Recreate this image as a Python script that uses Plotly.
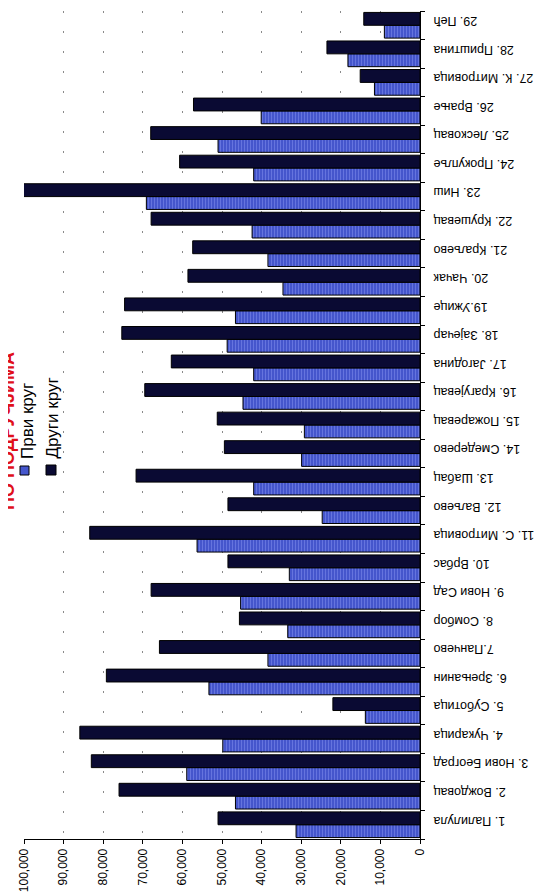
import plotly.graph_objects as go

categories = ["1. Палилула", "2. Вождовац", "3. Нови Београд", "4. Чукарица", "5. Суботица",
              "6. Зрењанин", "7.Панчево", "8. Сомбор", "9. Нови Сад", "10. Врбас",
              "11. С. Митровица", "12. Ваљево", "13. Шабац", "14. Смедерево", "15. Пожаревац",
              "16. Крагујевац", "17. Јагодина", "18. Зајечар", "19.Ужице", "20. Чачак",
              "21. Краљево", "22. Крушевац", "23. Ниш", "24. Прокупље", "25. Лесковац",
              "26. Врање", "27. К. Митровица", "28. Приштина", "29. Пећ"]

prvi_krug = [31300, 46600, 58900, 49800, 13800, 53300, 38400, 33400, 45300, 33000,
             56300, 24700, 42000, 29900, 29200, 44700, 42000, 48700, 46600, 34600,
             38400, 42400, 69100, 42000, 51000, 40100, 11500, 18200, 9000]

drugi_krug = [51000, 76000, 83000, 85900, 22000, 79200, 65800, 45600, 67900, 48500,
              83400, 48500, 71700, 49400, 51200, 69500, 62800, 75300, 74600, 58600,
              57400, 67900, 100800, 60700, 68000, 57200, 15100, 23500, 14200]

x_ticks = list(range(0, 100001, 10000))

series_names = ["Први круг", "Други круг"]
title_text = "ПО ПОДРУЧЈИМА"

BLUE = "#4556cc"
DARK = "#0a0a33"
FONT = "Liberation Sans, Arial, sans-serif"

fig = go.Figure()
fig.add_trace(go.Bar(
    y=categories, x=prvi_krug, orientation="h", name=series_names[0],
    marker=dict(color=BLUE, line=dict(color="#000000", width=1),
                pattern=dict(shape="|", fgcolor="#8592f0", bgcolor=BLUE, size=3, solidity=0.35)),
))
fig.add_trace(go.Bar(
    y=categories, x=drugi_krug, orientation="h", name=series_names[1],
    marker=dict(color=DARK, line=dict(color="#000000", width=1)),
))

# plot area in pixels: x 16..412, y 3..831
L, R, T, B = 16, 412, 3, 831
W, H = R - L, B - T

def px(x):
    return (x - L) / W

def py(y):
    return (B - y) / H

annotations = [
    dict(text="<b>" + title_text + "</b>", xref="paper", yref="paper",
         x=px(0), y=py(423), xanchor="center", yanchor="middle", textangle=-90,
         showarrow=False, font=dict(family=FONT, size=18, color="#e0101a")),
    dict(text=series_names[0], xref="paper", yref="paper",
         x=px(19), y=py(453), xanchor="center", yanchor="bottom", textangle=-90,
         showarrow=False, font=dict(family=FONT, size=17, color="#000000")),
    dict(text=series_names[1], xref="paper", yref="paper",
         x=px(44), y=py(453), xanchor="center", yanchor="bottom", textangle=-90,
         showarrow=False, font=dict(family=FONT, size=17, color="#000000")),
]

shapes = [
    dict(type="rect", xref="paper", yref="paper", x0=px(12), x1=px(21), y0=py(467), y1=py(458),
         fillcolor=BLUE, line=dict(color="#000000", width=1)),
    dict(type="rect", xref="paper", yref="paper", x0=px(38), x1=px(48), y0=py(467), y1=py(457),
         fillcolor=DARK, line=dict(color="#000000", width=1)),
]

fig.update_layout(
    width=542, height=894,
    margin=dict(l=L, r=542 - R, t=T, b=894 - B, autoexpand=False),
    paper_bgcolor="white", plot_bgcolor="white",
    barmode="group", bargap=0.1, bargroupgap=0.0,
    showlegend=False,
    annotations=annotations, shapes=shapes,
    font=dict(family=FONT, color="#000000"),
)

fig.update_xaxes(
    range=[100000, 0], tickvals=x_ticks, tickformat=",",
    tickangle=-90, tickfont=dict(family=FONT, size=12, color="#000000"),
    showline=True, linecolor="#000000", linewidth=1,
    ticks="outside", ticklen=4, tickcolor="#000000",
    showgrid=True, gridcolor="#8a8a8a", gridwidth=1, griddash="2px,18px",
    zeroline=False, automargin=False,
)

fig.update_yaxes(
    type="category", categoryorder="array", categoryarray=categories,
    side="right", showline=True, linecolor="#000000", linewidth=1,
    ticks="outside", ticklen=4, tickcolor="#000000", tickson="boundaries",
    tickangle=180, ticklabelposition="inside", ticklabelstandoff=-14,
    tickfont=dict(family=FONT, size=12.5, color="#000000"),
    showgrid=False, zeroline=False, automargin=False,
)

fig.write_html("out.html")
